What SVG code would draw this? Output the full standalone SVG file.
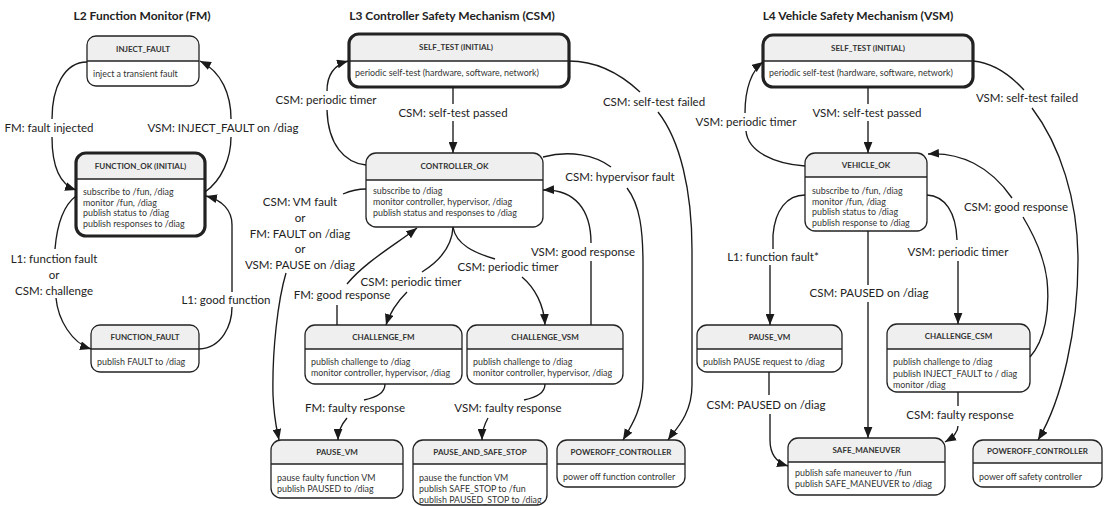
<svg xmlns="http://www.w3.org/2000/svg" width="1104" height="506" viewBox="0 0 1104 506">
<style>
.bg{fill:#fff}
.hd{fill:#efefef}
.bx{fill:none;stroke:#222;stroke-width:1.3}
.bx.init{stroke-width:3.2}
.dv{stroke:#222;stroke-width:1.3}
.h{font-family:Lato,"Open Sans",sans-serif;font-weight:bold;font-size:12px;text-anchor:middle;fill:#222}
.t{font-family:Lato,"Open Sans",sans-serif;font-weight:bold;font-size:8px;text-anchor:middle;fill:#333}
.b{font-family:Lato,"Open Sans",sans-serif;font-size:8.9px;fill:#333}
.l{font-family:Lato,"Open Sans",sans-serif;font-size:11.5px;text-anchor:middle;fill:#222}
.e{fill:none;stroke:#1a1a1a;stroke-width:1.35;marker-end:url(#ah)}
</style>
<defs>
<marker id="ah" viewBox="0 0 10 8" refX="10" refY="4" markerWidth="11" markerHeight="9" markerUnits="userSpaceOnUse" orient="auto">
<path d="M0,0 L10,4 L0,8 z" fill="#1a1a1a"/>
</marker>
</defs>
<rect width="1104" height="506" fill="#fff"/>

<text class="h" x="142" y="20">L2 Function Monitor (FM)</text>
<text class="h" x="452" y="20">L3 Controller Safety Mechanism (CSM)</text>
<text class="h" x="858" y="20">L4 Vehicle Safety Mechanism (VSM)</text>

<!-- FM nodes -->
<g id="fm-inject-fault">
<rect class="bg" x="87" y="36" width="112" height="50" rx="9"/>
<path class="hd" d="M87,61 V45 A9,9 0 0 1 96,36 H190 A9,9 0 0 1 199,45 V61 Z"/>
<line class="dv" x1="87" y1="61" x2="199" y2="61"/>
<rect class="bx" x="87" y="36" width="112" height="50" rx="9"/>
<text class="t" x="143" y="51.5">INJECT_FAULT</text>
<text class="b" x="93" y="76.5">inject a transient fault</text>
</g>
<g id="fm-function-ok">
<rect class="bg" x="76" y="153" width="129" height="83" rx="10"/>
<path class="hd" d="M76,179 V163 A10,10 0 0 1 86,153 H195 A10,10 0 0 1 205,163 V179 Z"/>
<line class="dv" x1="76" y1="179" x2="205" y2="179"/>
<rect class="bx init" x="76" y="153" width="129" height="83" rx="10"/>
<text class="t" x="140.5" y="168.8">FUNCTION_OK (INITIAL)</text>
<text class="b" x="83" y="195.3">subscribe to /fun, /diag</text>
<text class="b" x="83" y="205.6">monitor /fun, /diag</text>
<text class="b" x="83" y="215.9">publish status to /diag</text>
<text class="b" x="83" y="226.5">publish responses to /diag</text>
</g>
<g id="fm-function-fault">
<rect class="bg" x="91" y="325" width="108" height="47" rx="9"/>
<path class="hd" d="M91,349 V334 A9,9 0 0 1 100,325 H190 A9,9 0 0 1 199,334 V349 Z"/>
<line class="dv" x1="91" y1="349" x2="199" y2="349"/>
<rect class="bx" x="91" y="325" width="108" height="47" rx="9"/>
<text class="t" x="145" y="339.8">FUNCTION_FAULT</text>
<text class="b" x="97" y="365.3">publish FAULT to /diag</text>
</g>

<!-- CSM nodes -->
<g id="csm-self-test">
<rect class="bg" x="349" y="34" width="220" height="53" rx="10"/>
<path class="hd" d="M349,61 V44 A10,10 0 0 1 359,34 H559 A10,10 0 0 1 569,44 V61 Z"/>
<line class="dv" x1="349" y1="61" x2="569" y2="61"/>
<rect class="bx init" x="349" y="34" width="220" height="53" rx="10"/>
<text class="t" x="456" y="50.3">SELF_TEST (INITIAL)</text>
<text class="b" x="355" y="76.3">periodic self-test (hardware, software, network)</text>
</g>
<g id="csm-controller-ok">
<rect class="bg" x="366" y="153" width="177" height="74" rx="10"/>
<path class="hd" d="M366,180 V163 A10,10 0 0 1 376,153 H533 A10,10 0 0 1 543,163 V180 Z"/>
<line class="dv" x1="366" y1="180" x2="543" y2="180"/>
<rect class="bx" x="366" y="153" width="177" height="74" rx="10"/>
<text class="t" x="454.5" y="169.3">CONTROLLER_OK</text>
<text class="b" x="373" y="194.3">subscribe to /diag</text>
<text class="b" x="373" y="205.3">monitor controller, hypervisor, /diag</text>
<text class="b" x="373" y="216.3">publish status and responses to /diag</text>
</g>
<g id="csm-challenge-fm">
<rect class="bg" x="305" y="325" width="157" height="59" rx="10"/>
<path class="hd" d="M305,349 V335 A10,10 0 0 1 315,325 H452 A10,10 0 0 1 462,335 V349 Z"/>
<line class="dv" x1="305" y1="349" x2="462" y2="349"/>
<rect class="bx" x="305" y="325" width="157" height="59" rx="10"/>
<text class="t" x="383.5" y="339.8">CHALLENGE_FM</text>
<text class="b" x="311" y="365.3">publish challenge to /diag</text>
<text class="b" x="311" y="376.3">monitor controller, hypervisor, /diag</text>
</g>
<g id="csm-challenge-vsm">
<rect class="bg" x="467" y="325" width="156" height="59" rx="10"/>
<path class="hd" d="M467,349 V335 A10,10 0 0 1 477,325 H613 A10,10 0 0 1 623,335 V349 Z"/>
<line class="dv" x1="467" y1="349" x2="623" y2="349"/>
<rect class="bx" x="467" y="325" width="156" height="59" rx="10"/>
<text class="t" x="545" y="339.8">CHALLENGE_VSM</text>
<text class="b" x="473" y="365.3">publish challenge to /diag</text>
<text class="b" x="473" y="376.3">monitor controller, hypervisor, /diag</text>
</g>
<g id="csm-pause-vm">
<rect class="bg" x="271" y="440" width="132" height="58" rx="10"/>
<path class="hd" d="M271,464 V450 A10,10 0 0 1 281,440 H393 A10,10 0 0 1 403,450 V464 Z"/>
<line class="dv" x1="271" y1="464" x2="403" y2="464"/>
<rect class="bx" x="271" y="440" width="132" height="58" rx="10"/>
<text class="t" x="337" y="454.8">PAUSE_VM</text>
<text class="b" x="277" y="481">pause faulty function VM</text>
<text class="b" x="277" y="492">publish PAUSED to /diag</text>
</g>
<g id="csm-pause-and-safe-stop">
<rect class="bg" x="413" y="440" width="134" height="65" rx="10"/>
<path class="hd" d="M413,464 V450 A10,10 0 0 1 423,440 H537 A10,10 0 0 1 547,450 V464 Z"/>
<line class="dv" x1="413" y1="464" x2="547" y2="464"/>
<rect class="bx" x="413" y="440" width="134" height="65" rx="10"/>
<text class="t" x="480" y="454.8">PAUSE_AND_SAFE_STOP</text>
<text class="b" x="419" y="481">pause the function VM</text>
<text class="b" x="419" y="492">publish SAFE_STOP to /fun</text>
<text class="b" x="419" y="503">publish PAUSED_STOP to /diag</text>
</g>
<g id="csm-poweroff-controller">
<rect class="bg" x="557" y="440" width="128" height="47" rx="10"/>
<path class="hd" d="M557,464 V450 A10,10 0 0 1 567,440 H675 A10,10 0 0 1 685,450 V464 Z"/>
<line class="dv" x1="557" y1="464" x2="685" y2="464"/>
<rect class="bx" x="557" y="440" width="128" height="47" rx="10"/>
<text class="t" x="621" y="454.8">POWEROFF_CONTROLLER</text>
<text class="b" x="563" y="479.5">power off function controller</text>
</g>

<!-- VSM nodes -->
<g id="vsm-self-test">
<rect class="bg" x="763" y="35" width="210" height="52" rx="10"/>
<path class="hd" d="M763,61 V45 A10,10 0 0 1 773,35 H963 A10,10 0 0 1 973,45 V61 Z"/>
<line class="dv" x1="763" y1="61" x2="973" y2="61"/>
<rect class="bx init" x="763" y="35" width="210" height="52" rx="10"/>
<text class="t" x="868" y="50.8">SELF_TEST (INITIAL)</text>
<text class="b" x="769" y="76.3">periodic self-test (hardware, software, network)</text>
</g>
<g id="vsm-vehicle-ok">
<rect class="bg" x="805" y="153" width="122" height="78" rx="10"/>
<path class="hd" d="M805,177 V163 A10,10 0 0 1 815,153 H917 A10,10 0 0 1 927,163 V177 Z"/>
<line class="dv" x1="805" y1="177" x2="927" y2="177"/>
<rect class="bx" x="805" y="153" width="122" height="78" rx="10"/>
<text class="t" x="866" y="167.8">VEHICLE_OK</text>
<text class="b" x="812" y="194.3">subscribe to /fun, /diag</text>
<text class="b" x="812" y="204.8">monitor /fun, /diag</text>
<text class="b" x="812" y="215.3">publish status to /diag</text>
<text class="b" x="812" y="226.3">publish response to /diag</text>
</g>
<g id="vsm-pause-vm">
<rect class="bg" x="697" y="325" width="145" height="47" rx="10"/>
<path class="hd" d="M697,349 V335 A10,10 0 0 1 707,325 H832 A10,10 0 0 1 842,335 V349 Z"/>
<line class="dv" x1="697" y1="349" x2="842" y2="349"/>
<rect class="bx" x="697" y="325" width="145" height="47" rx="10"/>
<text class="t" x="769.5" y="339.8">PAUSE_VM</text>
<text class="b" x="703" y="365.3">publish PAUSE request to /diag</text>
</g>
<g id="vsm-challenge-csm">
<rect class="bg" x="887" y="324" width="143" height="68" rx="10"/>
<path class="hd" d="M887,349 V334 A10,10 0 0 1 897,324 H1020 A10,10 0 0 1 1030,334 V349 Z"/>
<line class="dv" x1="887" y1="349" x2="1030" y2="349"/>
<rect class="bx" x="887" y="324" width="143" height="68" rx="10"/>
<text class="t" x="958.5" y="339.3">CHALLENGE_CSM</text>
<text class="b" x="893" y="365.3">publish challenge to /diag</text>
<text class="b" x="893" y="376.8">publish INJECT_FAULT to / diag</text>
<text class="b" x="893" y="388.3">monitor /diag</text>
</g>
<g id="vsm-safe-maneuver">
<rect class="bg" x="788" y="438" width="157" height="57" rx="10"/>
<path class="hd" d="M788,462 V448 A10,10 0 0 1 798,438 H935 A10,10 0 0 1 945,448 V462 Z"/>
<line class="dv" x1="788" y1="462" x2="945" y2="462"/>
<rect class="bx" x="788" y="438" width="157" height="57" rx="10"/>
<text class="t" x="866.5" y="452.8">SAFE_MANEUVER</text>
<text class="b" x="795" y="475.5">publish safe maneuver to /fun</text>
<text class="b" x="795" y="486.5">publish SAFE_MANEUVER  to /diag</text>
</g>
<g id="vsm-poweroff-controller">
<rect class="bg" x="973" y="440" width="129" height="47" rx="10"/>
<path class="hd" d="M973,463 V450 A10,10 0 0 1 983,440 H1092 A10,10 0 0 1 1102,450 V463 Z"/>
<line class="dv" x1="973" y1="463" x2="1102" y2="463"/>
<rect class="bx" x="973" y="440" width="129" height="47" rx="10"/>
<text class="t" x="1037.5" y="454.3">POWEROFF_CONTROLLER</text>
<text class="b" x="979" y="479.5">power off safety controller</text>
</g>

<g id="connectors">
<!-- FM -->
<path class="e" d="M87,62 C64,62 52,88 52,119 M52,137 C52,162 58,184 76,190"/>
<text class="l" x="49" y="132">FM: fault injected</text>
<path class="e" d="M205,192 C222,180 231,158 231,137 M231,119 C231,95 222,72 200,61"/>
<text class="l" x="223" y="132">VSM: INJECT_FAULT on /diag</text>
<path class="e" d="M76,196 C64,205 57,225 55,249 M56,298 C58,320 72,343 91,349"/>
<text class="l" x="54" y="263">L1: function fault</text>
<text class="l" x="54" y="279">or</text>
<text class="l" x="54" y="295">CSM: challenge</text>
<path class="e" d="M199,349 C222,348 232,325 232,307 M232,292 L232,225 C232,210 222,200 206,196"/>
<text class="l" x="226" y="304">L1: good function</text>

<!-- CSM -->
<path class="e" d="M453,87 L453,104 M453,121 L453,153"/>
<text class="l" x="453" y="117">CSM: self-test passed</text>
<path class="e" d="M366,165 C345,163 328,145 327,110 M327,91 C327,76 334,65 348,61"/>
<text class="l" x="326" y="104">CSM: periodic timer</text>
<path class="e" d="M366,189 C357,189 350,191 343,194 M286,273 C278,300 272,350 273,395 C274,420 277,430 279,440"/>
<text class="l" x="300" y="206">CSM: VM fault</text>
<text class="l" x="300" y="222">or</text>
<text class="l" x="300" y="238">FM: FAULT on /diag</text>
<text class="l" x="300" y="253">or</text>
<text class="l" x="300" y="269">VSM: PAUSE on /diag</text>
<path class="e" d="M337,325 L337,305 M347,284 C365,262 395,245 417,228"/>
<text class="l" x="342" y="299">FM: good response</text>
<path class="e" d="M453,227 C452,248 438,262 422,272 M407,292 C397,302 390,312 386,325"/>
<text class="l" x="411" y="286">CSM: periodic timer</text>
<path class="e" d="M453,227 C456,245 475,253 495,259 M522,277 C535,288 544,305 545,325"/>
<text class="l" x="508" y="271">CSM: periodic timer</text>
<path class="e" d="M591,325 L591,261 M591,243 C591,210 575,189 543,190"/>
<text class="l" x="583" y="256">VSM: good response</text>
<path class="e" d="M543,157 C570,150 595,155 611,167 M627,188 C640,205 643,230 643,265 L643,380 C643,410 630,428 623,440"/>
<text class="l" x="620" y="181">CSM: hypervisor fault</text>
<path class="e" d="M569,61 C600,61 625,78 640,92 M658,112 C680,140 692,190 692,250 L692,385 C692,415 675,430 668,440"/>
<text class="l" x="654" y="106">CSM: self-test failed</text>
<path class="e" d="M385,384 C385,393 377,397 364,400 M347,418 C341,425 338,432 338,440"/>
<text class="l" x="355" y="412">FM: faulty response</text>
<path class="e" d="M545,384 C545,393 537,397 524,400 M488,418 C484,425 482,432 482,440"/>
<text class="l" x="508" y="412">VSM: faulty response</text>

<!-- VSM -->
<path class="e" d="M868,87 L868,104 M868,121 L868,153"/>
<text class="l" x="867" y="117">VSM: self-test passed</text>
<path class="e" d="M805,166 C775,164 748,152 746,131 M745,113 C745,88 752,70 763,62"/>
<text class="l" x="746" y="126">VSM: periodic timer</text>
<path class="e" d="M805,195 C787,195 775,210 773,235 L773,249 M770,265 L770,325"/>
<text class="l" x="773" y="261">L1: function fault*</text>
<path class="e" d="M868,231 L868,285 M868,302 L868,438"/>
<text class="l" x="869" y="297">CSM: PAUSED on /diag</text>
<path class="e" d="M927,195 C945,196 956,212 957,240 M958,261 L958,324"/>
<text class="l" x="958" y="256">VSM: periodic timer</text>
<path class="e" d="M1030,357 C1045,340 1050,310 1047,280 C1044,255 1032,232 1023,217 M1012,198 C990,166 960,152 928,154"/>
<text class="l" x="1016" y="211">CSM: good response</text>
<path class="e" d="M973,61 C995,63 1013,78 1024,90 M1032,108 C1060,145 1078,200 1078,260 C1078,330 1062,400 1038,440"/>
<text class="l" x="1027" y="102">VSM: self-test failed</text>
<path class="e" d="M769,372 L769,395 M770,414 L770,440 C770,455 778,463 788,466"/>
<text class="l" x="766" y="409">CSM: PAUSED on /diag</text>
<path class="e" d="M958,392 L958,406 M958,426 C958,433 952,438 945,442"/>
<text class="l" x="960" y="419">CSM: faulty response</text>
</g>
</svg>
